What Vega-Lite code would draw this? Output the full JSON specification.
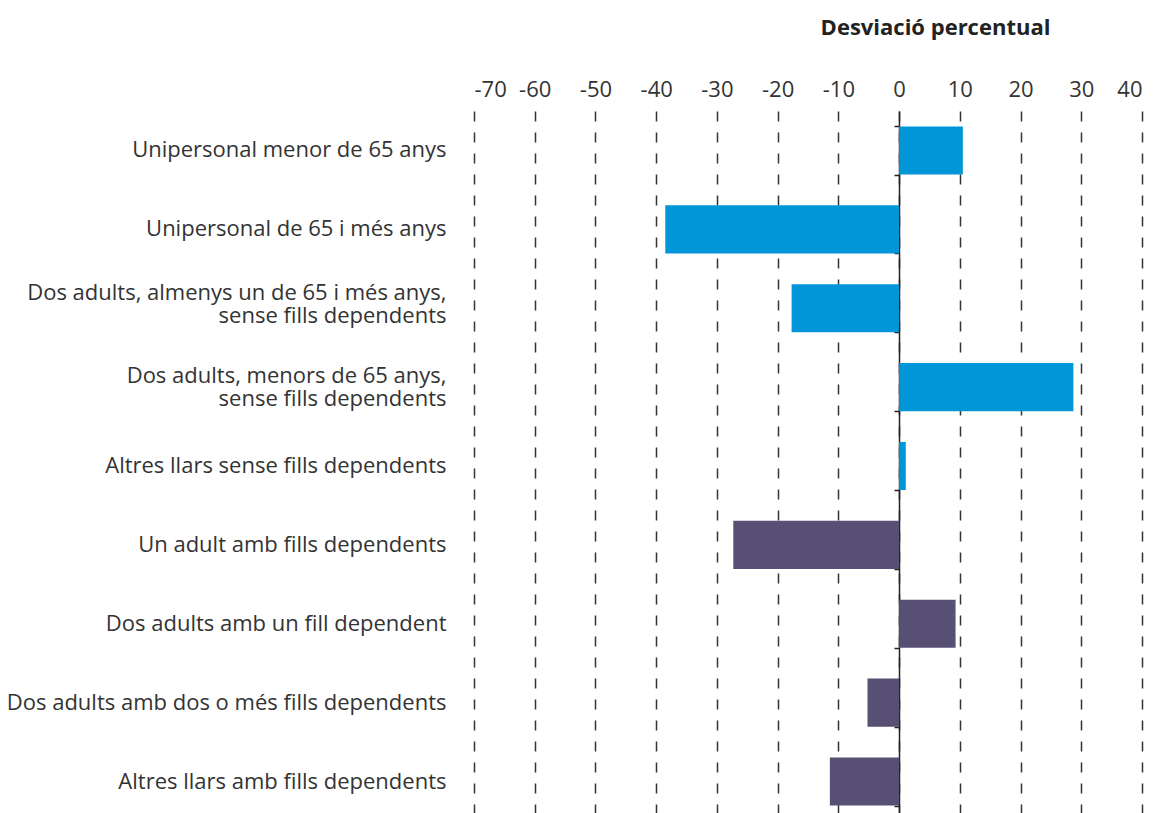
{
  "$schema": "https://vega.github.io/schema/vega-lite/v6.json",
  "width": 668,
  "height": 710,
  "autosize": {"type": "none"},
  "padding": {"left": 474, "top": 111, "right": 22, "bottom": 0},
  "background": "white",
  "config": {
    "view": {"stroke": null},
    "font": "Open Sans"
  },
  "data": {
    "values": [
      {"cat": "Unipersonal menor de 65 anys", "val": 10.5, "grp": "A"},
      {"cat": "Unipersonal de 65 i més anys", "val": -38.5, "grp": "A"},
      {"cat": "Dos adults, almenys un de 65 i més anys,|sense fills dependents", "val": -17.7, "grp": "A"},
      {"cat": "Dos adults, menors de 65 anys,|sense fills dependents", "val": 28.7, "grp": "A"},
      {"cat": "Altres llars sense fills dependents", "val": 1.1, "grp": "A"},
      {"cat": "Un adult amb fills dependents", "val": -27.3, "grp": "B"},
      {"cat": "Dos adults amb un fill dependent", "val": 9.3, "grp": "B"},
      {"cat": "Dos adults amb dos o més fills dependents", "val": -5.2, "grp": "B"},
      {"cat": "Altres llars amb fills dependents", "val": -11.4, "grp": "B"}
    ]
  },
  "encoding": {
    "y": {
      "field": "cat",
      "type": "nominal",
      "sort": null,
      "scale": {"paddingInner": 0.39, "paddingOuter": 0.195}
    },
    "x": {
      "field": "val",
      "type": "quantitative",
      "scale": {"domain": [-70, 40], "nice": false},
      "axis": {
        "orient": "top",
        "values": [-70, -60, -50, -40, -30, -20, -10, 0, 10, 20, 30, 40],
        "labelExpr": "'' + datum.value",
        "domain": false,
        "ticks": false,
        "labelFontSize": 22,
        "labelColor": "#333333",
        "labelPadding": 10,
        "grid": true,
        "gridDash": [10, 11],
        "gridColor": "#333333",
        "gridWidth": 1.5,
        "gridOpacity": 1,
        "title": "Desviació percentual",
        "titleFontSize": 22,
        "titleFontWeight": "bold",
        "titleColor": "#222222",
        "titleX": 461,
        "titleY": -84,
        "titleAlign": "center",
        "titleBaseline": "middle",
        "titleAnchor": null
      }
    }
  },
  "layer": [
    {
      "mark": {"type": "bar"},
      "encoding": {
        "color": {
          "field": "grp",
          "type": "nominal",
          "scale": {"domain": ["A", "B"], "range": ["#0096d8", "#574f74"]},
          "legend": null
        },
        "y": {
          "field": "cat",
          "type": "nominal",
          "sort": null,
          "axis": {
            "title": null,
            "domain": false,
            "ticks": false,
            "labelFontSize": 22,
            "labelColor": "#333333",
            "labelPadding": 28,
            "labelLimit": 0,
            "labelLineHeight": 23,
            "labelExpr": "split(datum.label, '|')",
            "labelOffset": {
              "condition": [
                {"test": "indexof(datum.value, 'almenys') >= 0", "value": -15},
                {"test": "indexof(datum.value, '|') >= 0", "value": -11}
              ],
              "value": 0
            }
          }
        }
      }
    },
    {
      "mark": {"type": "bar", "opacity": 0},
      "encoding": {
        "y": {
          "field": "cat",
          "type": "nominal",
          "sort": null,
          "axis": {
            "orient": "left",
            "offset": -425,
            "title": null,
            "labels": false,
            "domain": true,
            "domainColor": "#222222",
            "domainWidth": 1.5,
            "ticks": true,
            "tickBand": "extent",
            "tickSize": 5,
            "tickColor": "#222222",
            "tickWidth": 1.5,
            "grid": false
          }
        }
      }
    }
  ],
  "resolve": {"axis": {"y": "independent"}}
}
